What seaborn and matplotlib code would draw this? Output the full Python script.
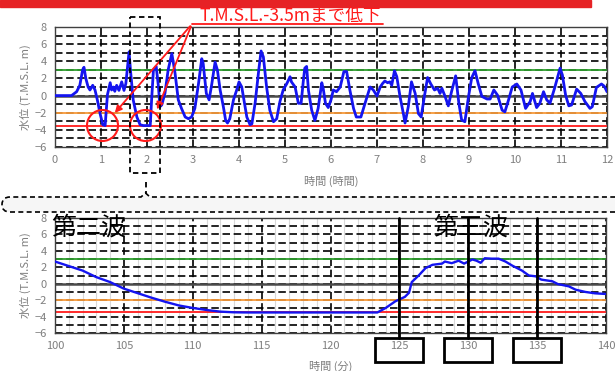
import numpy as np
import pandas as pd
import matplotlib
matplotlib.use("Agg")
import matplotlib.pyplot as plt
import seaborn as sns
from matplotlib.transforms import Affine2D
from matplotlib.patches import Rectangle, Circle, FancyArrowPatch, PathPatch
from matplotlib.path import Path

# ---------------- data ----------------
hours = [0, 0.36, 0.47, 0.54, 0.6, 0.63, 0.67, 0.72, 0.76, 0.82, 0.87, 0.92, 0.98, 1.04, 1.09,
         1.14, 1.2, 1.23, 1.27, 1.3, 1.34, 1.39, 1.45, 1.5, 1.54, 1.57, 1.61, 1.64, 1.7, 1.78,
         1.85, 1.92, 2.07, 2.1, 2.14, 2.2, 2.25, 2.28, 2.32, 2.39, 2.46, 2.54, 2.61, 2.68, 2.75,
         2.83, 2.9, 2.97, 3.04, 3.12, 3.19, 3.22, 3.29, 3.35, 3.41, 3.48, 3.53, 3.59, 3.66, 3.71,
         3.75, 3.8, 3.88, 3.95, 4.0, 4.06, 4.12, 4.17, 4.24, 4.28, 4.35, 4.43, 4.48, 4.53, 4.6,
         4.67, 4.75, 4.82, 4.89, 4.96, 5.04, 5.11, 5.14, 5.22, 5.29, 5.35, 5.4, 5.43, 5.47, 5.51,
         5.58, 5.65, 5.72, 5.8, 5.83, 5.88, 5.94, 6.0, 6.05, 6.12, 6.2, 6.28, 6.34, 6.41, 6.49,
         6.55, 6.65, 6.74, 6.85, 6.92, 7.0, 7.07, 7.12, 7.17, 7.23, 7.28, 7.32, 7.38, 7.43, 7.5,
         7.58, 7.61, 7.68, 7.75, 7.83, 7.9, 7.96, 8.03, 8.1, 8.17, 8.25, 8.32, 8.37, 8.41, 8.48,
         8.55, 8.62, 8.71, 8.78, 8.84, 8.91, 8.99, 9.06, 9.13, 9.2, 9.28, 9.39, 9.46, 9.54, 9.62,
         9.72, 9.78, 9.86, 9.94, 10.04, 10.13, 10.23, 10.33, 10.38, 10.47, 10.54, 10.62, 10.69,
         10.76, 10.86, 10.93, 10.98, 11.03, 11.1, 11.17, 11.23, 11.34, 11.43, 11.52, 11.63, 11.68,
         11.77, 11.88, 11.94, 12.0]
level_h = [0, 0, 0.45, 1.2, 3.0, 3.3, 2.0, 1.0, 0.65, 1.2, 0.65, -0.5, -2.1, -3.4, -3.5,
           0.1, 1.5, 0.65, 1.0, 0.5, 1.2, 0.6, 1.6, 0.6, 1.4, 3.0, 5.1, 3.0, -0.5, -2.5,
           -3.4, -3.5, -3.5, -0.5, 3.0, 3.4, 1.0, -1.3, -1.1, 0.25, 3.0, 4.9, 2.6, -0.5, -1.5,
           -2.5, -2.7, -2.5, -1.5, 1.4, 4.3, 3.8, 0.25, -0.5, 1.4, 3.9, 3.0, 0.65, -1.3, -2.9,
           -3.2, -2.7, -0.5, 0.65, 1.6, 1.0, -0.9, -2.5, -3.4, -3.3, -0.9, 3.0, 5.2, 4.5, 1.0,
           -1.7, -3.05, -2.7, -0.7, 0.65, 1.4, 2.2, 1.6, 1.0, -0.9, -0.9, 1.8, 3.2, 3.4, 0.6,
           -1.7, -2.9, -1.5, 1.5, 0.84, -0.9, -1.4, -0.5, 0.65, 0.45, 1.0, 2.8, 2.8, 0.65, -1.5,
           -2.5, -2.5, -0.9, 1.0, 0.65, -0.05, 1.0, 1.4, 1.7, 1.5, 1.6, 1.2, 2.9, 2.2, -0.1,
           -2.3, -3.2, -1.3, 1.6, 0.25, -2.1, -2.5, -0.1, 2.1, 1.35, 0.65, 0.85, 0.25, 0.85, -0.1,
           -1.2, 0.45, 2.3, -0.9, -2.85, -3.05, -0.1, 2.1, 2.9, 1.4, -0.1, -0.4, -0.4, 0.65, 0.05,
           -1.7, -1.9, -0.5, 1.0, 1.35, 0.65, -1.5, -0.7, 0.25, -1.4, -0.9, 0.45, -0.5,
           -0.9, 0.85, 2.2, 3.2, 2.4, 0.05, -1.2, -1.1, 0.75, 0.25, -0.7, -1.5, -1.3,
           0.95, 1.35, 1.1, 0.45]

minutes = [100, 101, 102, 103, 104, 105, 106, 107, 108, 109, 110, 111, 112, 113, 114, 123.4,
           124.0, 124.7, 125.4, 125.7, 125.9, 126.4, 126.9, 127.4, 128.1, 128.3, 128.8, 129.3,
           129.7, 130.3, 130.6, 130.9, 131.2, 131.7, 132.2, 132.7, 133.2, 133.9, 134.4, 134.9,
           135.3, 136.1, 136.5, 137.3, 137.8, 138.5, 139.2, 140]
level_m = [2.7, 2.15, 1.6, 0.8, 0.2, -0.6, -1.15, -1.7, -2.2, -2.65, -2.95, -3.2, -3.4, -3.48,
           -3.5, -3.5, -2.96, -2.15, -1.6, -1.1, 0.2, 1.0, 1.9, 2.3, 2.45, 2.7, 2.5, 2.8, 2.45,
           2.95, 2.8, 2.55, 3.1, 3.05, 3.05, 2.7, 2.2, 1.6, 1.0, 0.9, 0.5, 0.3, -0.04, -0.32,
           -0.73, -1.0, -1.17, -1.25]

ref_levels = [3, 0, -2, -3.5]
ref_colors = ["#2e9e2e", "#4a4a4a", "#f79a3a", "#ff1a1a"]
ref_widths = [1.3, 1.8, 1.3, 1.3]

top_xticks = list(range(0, 13))
bot_xticks = [100, 105, 110, 115, 120, 125, 130, 135, 140]
yticks = [-6, -4, -2, 0, 2, 4, 6, 8]
wave_marks = [125, 130, 135]

title_text = "T.M.S.L.-3.5mまで低下"
ylabel = "水位 (T.M.S.L. m)"
xlabel_top = "時間 (時間)"
xlabel_bot = "時間 (分)"
wave_labels = ["第二波", "第三波"]

# ---------------- style ----------------
sns.set_theme(style="white")
plt.rcParams['font.family'] = ['Noto Sans CJK JP', 'DejaVu Sans']
GRAY = "#7f7f7f"
DASH = (0, (4.5, 2.2))

W, H = 615, 371
fig = plt.figure(figsize=(W / 100, H / 100), dpi=100)
px = Affine2D().scale(1 / W, -1 / H).translate(0, 1) + fig.transFigure


def ax_rect(l, t, r, b):
    return [l / W, 1 - b / H, (r - l) / W, (b - t) / H]


ax1 = fig.add_axes(ax_rect(55, 27, 607, 147))
ax2 = fig.add_axes(ax_rect(55, 218, 606, 333))


def style_axes(ax, xticks, xmin, xmax, minor_x=None):
    ax.set_xlim(xmin, xmax)
    ax.set_ylim(-6, 8)
    ax.set_yticks(yticks)
    ax.set_yticks(list(range(-5, 8, 2)), minor=True)
    ax.set_xticks(xticks)
    if minor_x is not None:
        ax.set_xticks(minor_x, minor=True)
        ax.grid(True, which='minor', axis='x', color='#d9d9d9', lw=0.8, ls='-')
    ax.grid(True, which='major', axis='x', color='black', lw=1.2, ls=DASH)
    ax.grid(True, which='both', axis='y', color='black', lw=1.2, ls=DASH)
    ax.set_axisbelow(True)
    ax.tick_params(axis='both', which='both', direction='in', length=3, color='black',
                   labelcolor=GRAY, labelsize=8, pad=6)
    ax.tick_params(axis='x', which='minor', length=0)
    for s in ax.spines.values():
        s.set_color('#404040')
        s.set_linewidth(1.0)
    for lv, c, lw in zip(ref_levels, ref_colors, ref_widths):
        ax.axhline(lv, color=c, lw=lw, zorder=2)


# top chart
style_axes(ax1, top_xticks, 0, 12)
df_h = pd.DataFrame({"t": hours, "v": level_h})
sns.lineplot(data=df_h, x="t", y="v", ax=ax1, color="#1414f0", lw=2.0, estimator=None,
             sort=False, zorder=3)
ax1.set_xlabel(xlabel_top, color=GRAY, fontsize=8)
ax1.set_ylabel(ylabel, color=GRAY, fontsize=8)
ax1.yaxis.set_label_coords(-0.043, 0.5)
ax1.xaxis.set_label_coords(0.5, -0.24)

# bottom chart
style_axes(ax2, bot_xticks, 100, 140, minor_x=list(range(100, 141)))
df_m = pd.DataFrame({"t": minutes, "v": level_m})
sns.lineplot(data=df_m, x="t", y="v", ax=ax2, color="#1414f0", lw=1.7, estimator=None,
             sort=False, zorder=3)
ax2.set_xlabel(xlabel_bot, color=GRAY, fontsize=8)
ax2.set_ylabel(ylabel, color=GRAY, fontsize=8)
ax2.yaxis.set_label_coords(-0.043, 0.5)
ax2.xaxis.set_label_coords(0.5, -0.243)

# wave labels
ax2.text(-0.006, 0.92, wave_labels[0], transform=ax2.transAxes, fontsize=18,
         color='black', va='center', ha='left', zorder=5)
ax2.text(0.686, 0.92, wave_labels[1], transform=ax2.transAxes, fontsize=18,
         color='black', va='center', ha='left', zorder=5)

# wave marker lines and boxes around tick labels
xt = ax2.get_xaxis_transform()
for m in wave_marks:
    ax2.plot([m, m], [1.0, -0.043], transform=xt, color='black', lw=2.0, clip_on=False,
             zorder=6)
    ax2.add_patch(Rectangle((m - 1.75, -0.252), 3.5, 0.209, transform=xt, fill=False,
                            edgecolor='black', lw=2.0, clip_on=False, zorder=6))

# ---------------- annotations (figure pixel space) ----------------
fig.patches.append(Rectangle((0, 0), 591, 7, transform=px, color='#e62225', zorder=0))
fig.text(200 / W, 1 - 16 / H, title_text, color='#ff1a1a', fontsize=12.7, ha='left',
         va='center')
fig.lines.append(plt.Line2D([192, 383], [24, 24], transform=px, color='#ff1a1a', lw=1.3))
for tip in [(113, 115), (156, 112)]:
    fig.patches.append(FancyArrowPatch((192, 24), tip, transform=px, arrowstyle='-|>',
                                       mutation_scale=10, color='#ff1a1a', lw=1.3))
for c in [(102.5, 125.5), (145.5, 125.5)]:
    fig.patches.append(Circle(c, 15.5, transform=px, fill=False, edgecolor='#ff1a1a',
                              lw=1.5, zorder=10))
fig.patches.append(Rectangle((130, 17), 30, 156, transform=px, fill=False,
                             edgecolor='black', lw=1.3, ls=(0, (3, 2)), zorder=10))
fig.lines.append(plt.Line2D([145.5, 145.5], [182, 194], transform=px, color='black',
                            lw=1.3, ls=(0, (3, 2))))
verts = [(640, 212), (10, 212), (2, 212), (2, 204.5), (2, 197), (10, 197), (141, 197),
         (145.5, 193), (150, 197), (640, 197)]
codes = [Path.MOVETO, Path.LINETO, Path.CURVE3, Path.CURVE3, Path.CURVE3, Path.CURVE3,
         Path.LINETO, Path.LINETO, Path.LINETO, Path.LINETO]
fig.patches.append(PathPatch(Path(verts, codes), transform=px, facecolor='#f6f6f6',
                             edgecolor='black', lw=1.2, ls=(0, (3, 2))))

fig.savefig("out.png", dpi=100)
